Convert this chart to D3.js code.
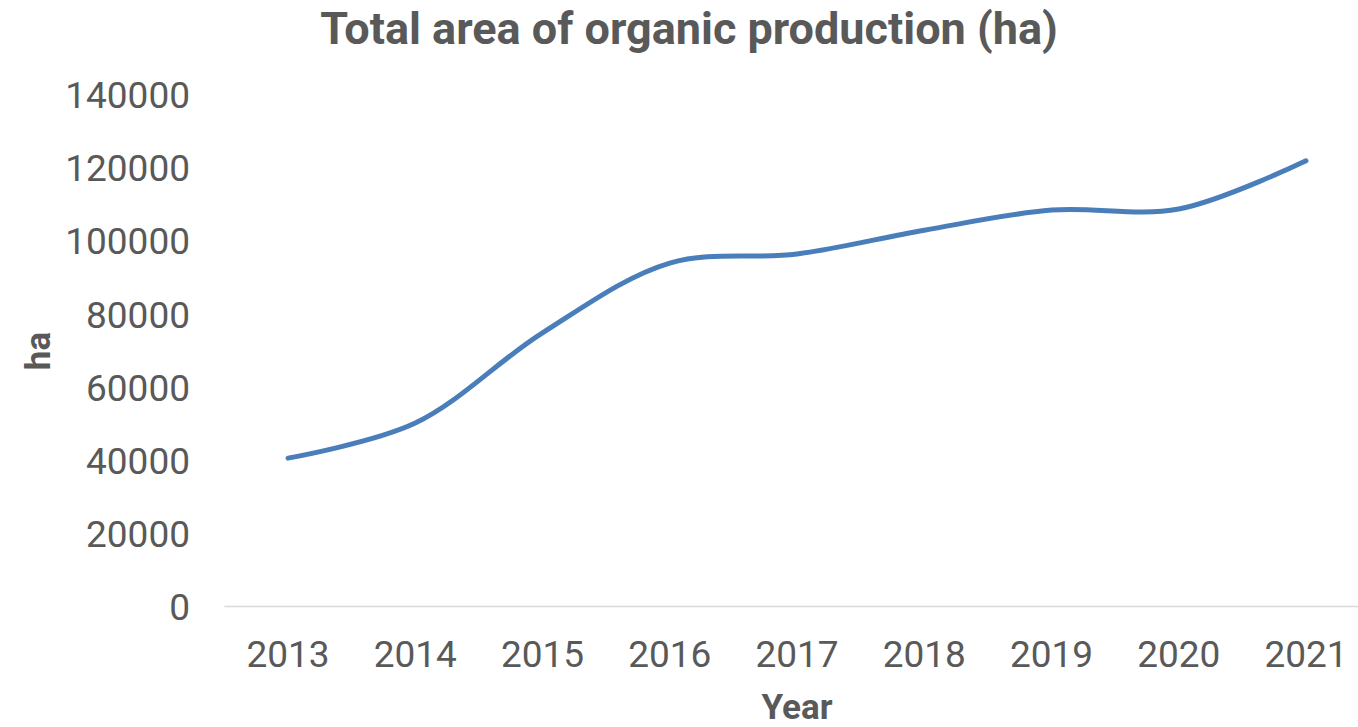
<!DOCTYPE html>
<html>
<head>
<meta charset="utf-8">
<script src="https://cdn.jsdelivr.net/npm/d3@7"></script>
<style>
  body { margin: 0; background: #fff; }
  svg { display: block; font-family: Roboto, sans-serif; }
</style>
</head>
<body>
<script>
// data
const years = ["2013", "2014", "2015", "2016", "2017", "2018", "2019", "2020", "2021"];
const area = [40600, 50200, 74900, 94000, 96500, 103000, 108500, 108800, 122000];
const yTicks = [0, 20000, 40000, 60000, 80000, 100000, 120000, 140000];

const width = 1358, height = 727;
const svg = d3.select("body").append("svg")
    .attr("width", width)
    .attr("height", height);

// scales
const x = d3.scalePoint()
    .domain(years)
    .range([224.4, 1369.6])
    .padding(0.5);
const y = d3.scaleLinear()
    .domain([0, 140000])
    .range([606.5, 95]);

// baseline
svg.append("line")
    .attr("x1", 224.4).attr("x2", 1369.6)
    .attr("y1", y(0)).attr("y2", y(0))
    .attr("stroke", "#d9d9d9")
    .attr("stroke-width", 1.5);

// y axis labels
svg.append("g")
    .selectAll("text")
    .data(yTicks)
    .join("text")
    .attr("x", 190)
    .attr("y", d => y(d))
    .attr("dy", "0.36em")
    .attr("text-anchor", "end")
    .attr("fill", "#595959")
    .style("font-size", "37px")
    .text(d => d);

// x axis labels
svg.append("g")
    .selectAll("text")
    .data(years)
    .join("text")
    .attr("x", d => x(d))
    .attr("y", 667)
    .attr("text-anchor", "middle")
    .attr("fill", "#595959")
    .style("font-size", "37px")
    .text(d => d);

// line
const line = d3.line()
    .x((d, i) => x(years[i]))
    .y(d => y(d))
    .curve(d3.curveCatmullRom.alpha(0.5));

svg.append("path")
    .datum(area)
    .attr("d", line)
    .attr("fill", "none")
    .attr("stroke", "#4a7ebb")
    .attr("stroke-width", 5)
    .attr("stroke-linecap", "round")
    .attr("stroke-linejoin", "round");

// title + axis titles
svg.append("text")
    .attr("x", 689)
    .attr("y", 44)
    .attr("text-anchor", "middle")
    .attr("fill", "#595959")
    .style("font-size", "45px")
    .style("font-weight", "bold")
    .text("Total area of organic production (ha)");

svg.append("text")
    .attr("transform", "translate(50,351) rotate(-90)")
    .attr("text-anchor", "middle")
    .attr("fill", "#595959")
    .style("font-size", "35px")
    .style("font-weight", "bold")
    .text("ha");

svg.append("text")
    .attr("x", 797)
    .attr("y", 719)
    .attr("text-anchor", "middle")
    .attr("fill", "#595959")
    .style("font-size", "35px")
    .style("font-weight", "bold")
    .text("Year");
</script>
</body>
</html>
